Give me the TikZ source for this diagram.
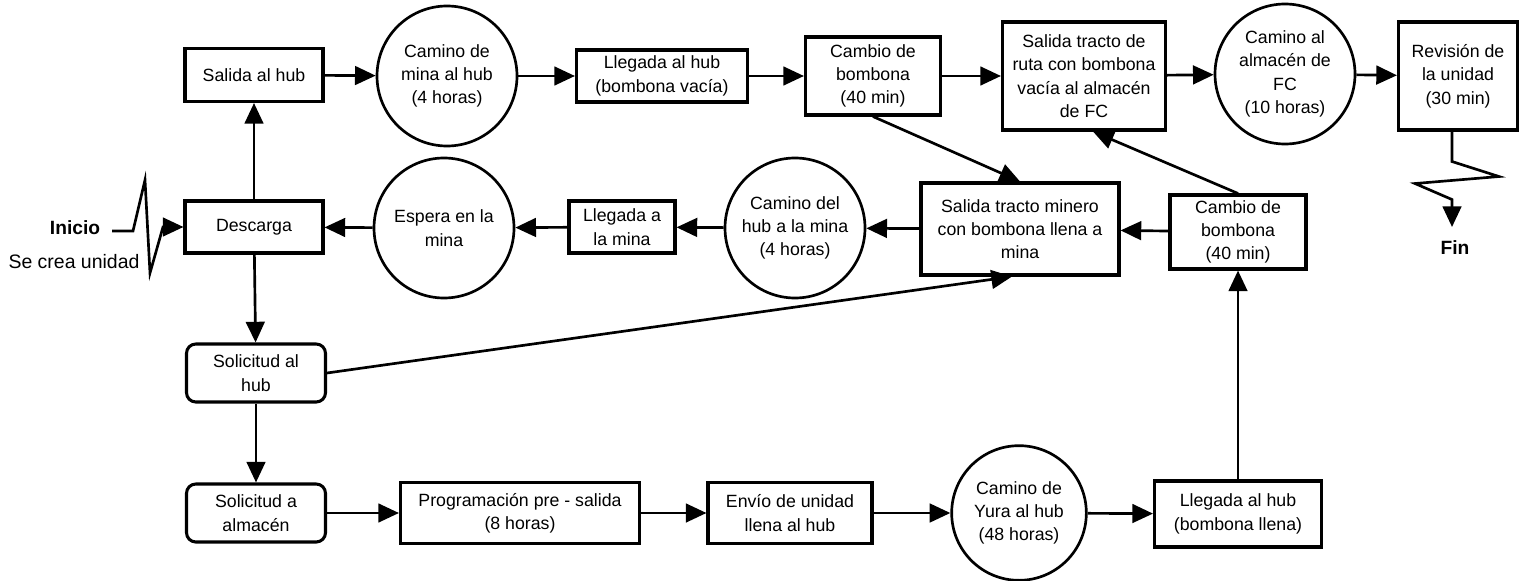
\documentclass[tikz,border=0pt]{standalone}
\usepackage{fontspec}
\setmainfont{Liberation Sans}
\usetikzlibrary{arrows.meta}

\begin{document}
\begin{tikzpicture}[x=0.75pt,y=0.75pt,yscale=-1,xscale=1,
    font=\fontsize{13.3}{17.5}\selectfont,
    procbox/.style={draw, line width=2.3pt, align=center, inner sep=0pt},
    reqbox/.style={procbox, rounded corners=7pt},
    waitcirc/.style={draw, circle, line width=2pt, align=center, inner sep=0pt, minimum size=105pt},
    flowarrow/.style={line width=2pt, -{Triangle[length=15.5pt,width=14pt]}}]
    \useasboundingbox (0,0) rectangle (1533,581);

    %Shape: Rectangle [top row]
    \node[procbox, minimum width=103.5pt, minimum height=39.75pt] (salida) at (254,75) {Salida al hub};
    %Shape: Circle
    \node[waitcirc] (caminoA) at (447,76) {Camino de\\mina al hub\\(4 horas)};
    %Shape: Rectangle
    \node[procbox, minimum width=128.25pt, minimum height=39pt] (llegadaV) at (662,76) {Llegada al hub\\(bombona vacía)};
    %Shape: Rectangle
    \node[procbox, minimum width=101.25pt, minimum height=58.5pt] (cambioA) at (873,76) {Cambio de\\bombona\\(40 min)};
    %Shape: Rectangle
    \node[procbox, minimum width=122.25pt, minimum height=81pt] (salidaR) at (1084,76) {Salida tracto de\\ruta con bombona\\vacía al almacén\\de FC};
    %Shape: Circle
    \node[waitcirc] (caminoF) at (1285,74) {Camino al\\almacén de\\FC\\(10 horas)};
    %Shape: Rectangle
    \node[procbox, minimum width=89.25pt, minimum height=81pt] (revision) at (1458,76) {Revisión de\\la unidad\\(30 min)};

    %Shape: Rectangle [middle row]
    \node[procbox, minimum width=103.5pt, minimum height=39pt] (descarga) at (254,227) {Descarga};
    %Shape: Circle
    \node[waitcirc] (espera) at (444,228) {Espera en la\\mina};
    %Shape: Rectangle
    \node[procbox, minimum width=79.5pt, minimum height=39pt] (llegadaM) at (622,227) {Llegada a\\la mina};
    %Shape: Circle
    \node[waitcirc] (caminoM) at (795,228) {Camino del\\hub a la mina\\(4 horas)};
    %Shape: Rectangle
    \node[procbox, minimum width=148.5pt, minimum height=69pt] (salidaM) at (1020,229) {Salida tracto minero\\con bombona llena a\\mina};
    %Shape: Rectangle
    \node[procbox, minimum width=102pt, minimum height=55.5pt] (cambioB) at (1238,232) {Cambio de\\bombona\\(40 min)};

    %Shape: Rounded Rectangle [bottom rows]
    \node[reqbox, minimum width=104.25pt, minimum height=43.5pt] (solHub) at (256,373) {Solicitud al\\hub};
    %Shape: Rounded Rectangle
    \node[reqbox, minimum width=104.25pt, minimum height=43.5pt] (solAlm) at (256,513) {Solicitud a\\almacén};
    %Shape: Rectangle
    \node[procbox, minimum width=179.25pt, minimum height=45.75pt] (prog) at (520,513) {Programación pre - salida\\(8 horas)};
    %Shape: Rectangle
    \node[procbox, minimum width=123pt, minimum height=45.75pt] (envio) at (790,513) {Envío de unidad\\llena al hub};
    %Shape: Circle
    \node[waitcirc, minimum size=101pt] (caminoY) at (1019,513) {Camino de\\Yura al hub\\(48 horas)};
    %Shape: Rectangle
    \node[procbox, minimum width=125.25pt, minimum height=49.5pt] (llegadaL) at (1238,514) {Llegada al hub\\(bombona llena)};

    %Straight Lines
    \draw[flowarrow] (descarga) -- (salida);
    \draw[flowarrow] (salida) -- (caminoA);
    \draw[flowarrow] (caminoA) -- (llegadaV);
    \draw[flowarrow] (llegadaV) -- (cambioA);
    \draw[flowarrow] (cambioA) -- (salidaR);
    \draw[flowarrow] (salidaR) -- (caminoF);
    \draw[flowarrow] (caminoF) -- (revision);
    \draw[flowarrow] (cambioA.south) -- (salidaM.north);
    \draw[flowarrow] (cambioB.north) -- ([xshift=6.75pt]salidaR.south);
    \draw[flowarrow] (cambioB) -- (salidaM);
    \draw[flowarrow] (salidaM) -- (caminoM);
    \draw[flowarrow] (caminoM) -- (llegadaM);
    \draw[flowarrow] (llegadaM) -- (espera);
    \draw[flowarrow] (espera) -- (descarga);
    \draw[flowarrow] (descarga) -- (solHub);
    \draw[flowarrow] (solHub.east) -- ([xshift=-6pt]salidaM.south);
    \draw[flowarrow] (solHub) -- (solAlm);
    \draw[flowarrow] (solAlm) -- (prog);
    \draw[flowarrow] (prog) -- (envio);
    \draw[flowarrow] (envio) -- (caminoY);
    \draw[flowarrow] (caminoY) -- (llegadaL);
    \draw[flowarrow] (llegadaL) -- (cambioB);

    %Zigzag Lines
    \coordinate (iniStart) at (112,231);
    \draw[flowarrow] (iniStart) -- ++(21,0) -- ++(12,-51) -- ++(5,93) -- ++(13,-46) -- (descarga.west);
    \coordinate (finEnd) at (1452,227);
    \draw[flowarrow] ([xshift=-4.5pt]revision.south) -- ++(0,30) -- ++(47,15) -- ++(-84,7) -- ++(37,16) -- (finEnd);

    % Text Node
    \node[font=\fontsize{14.4}{17.5}\selectfont\bfseries] (inicio) at (75,228) {Inicio};
    % Text Node
    \node[font=\fontsize{14.6}{17.5}\selectfont] (creaUnidad) at (74,262) {Se crea unidad};
    % Text Node
    \node[font=\fontsize{14.4}{17.5}\selectfont\bfseries] (fin) at (1455,248) {Fin};

\end{tikzpicture}
\end{document}
